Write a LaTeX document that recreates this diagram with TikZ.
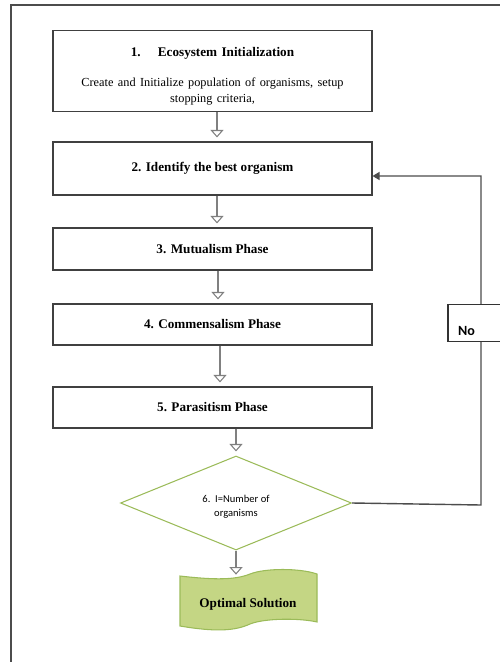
\documentclass[tikz,border=0pt]{standalone}
\usepackage{fontspec}
\setmainfont{Liberation Serif}
\newfontfamily\calfont{Carlito}
\usetikzlibrary{arrows.meta,shapes.geometric}
\definecolor{leafline}{RGB}{155,187,89}
\definecolor{leaffill}{RGB}{196,214,132}

\begin{document}
\begin{tikzpicture}[
        stage/.style = {draw = black!75, line width = 0.6pt, minimum width = 6.38cm, font = \fontsize{7.5}{9}\selectfont},
        flow/.style = {draw = gray, line width = 0.6pt, -{Triangle[open, width = 0.26cm, length = 0.15cm]}, shorten > = 0.08cm},
        back/.style = {draw = black!70, line width = 0.8pt, -{Triangle[width = 0.16cm, length = 0.14cm]}},
        nobox/.style = {draw = black!80, fill = white, line width = 0.6pt, minimum width = 1.4cm, minimum height = 0.64cm, text width = 1.0cm, align = left, font = \calfont\bfseries\fontsize{8}{9}\selectfont}
    ]
        \useasboundingbox (0,0) rectangle (10,-13.24);
        \draw[black!70, line width = 0.6pt] (0.22,-0.1) rectangle (10.6,-13.8);

        \node[stage, minimum height = 1.56cm, text width = 6.1cm, align = center] (init) at (4.25,-1.42) {\rule{0pt}{0.4cm}\textbf{1.\hspace{1.3em}Ecosystem Initialization}\\[0.34cm]{\fontsize{7}{7.6}\selectfont Create and Initialize population of organisms, setup\\stopping criteria,}};
        \node[stage, minimum height = 1.06cm] (best) at (4.25,-3.37) {\textbf{2. Identify the best organism}};
        \node[stage, minimum height = 0.84cm] (mutual) at (4.25,-4.98) {\textbf{3. Mutualism Phase}};
        \node[stage, minimum height = 0.82cm] (commensal) at (4.25,-6.49) {\textbf{4. Commensalism Phase}};
        \node[stage, minimum height = 0.82cm] (parasit) at (4.25,-8.15) {\textbf{5. Parasitism Phase}};

        \node[diamond, aspect = 2.4, draw = leafline, line width = 0.6pt, minimum width = 4.62cm, minimum height = 1.88cm, inner sep = 0pt, align = center, font = \calfont\fontsize{6}{7.8}\selectfont] (check) at (4.72,-10.06) {\rule{0pt}{8.5pt}6.\ \ I=Number of\\organisms};

        % wavy document shape
        \filldraw[fill = leaffill, draw = leafline, line width = 0.6pt] (3.6,-11.52) .. controls (4.3,-11.6) and (4.7,-11.6) .. (5.0,-11.48) .. controls (5.3,-11.36) and (6.0,-11.36) .. (6.34,-11.48) -- (6.34,-12.44) .. controls (6.0,-12.36) and (5.3,-12.36) .. (5.0,-12.48) .. controls (4.7,-12.62) and (4.3,-12.64) .. (3.6,-12.52) -- cycle;
        \node[minimum height = 1.12cm, font = \fontsize{7.5}{9}\selectfont\bfseries] (optimal) at (4.96,-12.08) {Optimal Solution};

        \draw[flow] ([xshift = 0.09cm]init.south) -- ([xshift = 0.09cm]best.north);
        \draw[flow] ([xshift = 0.09cm]best.south) -- ([xshift = 0.09cm]mutual.north);
        \draw[flow] ([xshift = 0.11cm]mutual.south) -- ([xshift = 0.11cm]commensal.north);
        \draw[flow] ([xshift = 0.15cm]commensal.south) -- ([xshift = 0.15cm]parasit.north);
        \draw[flow] (parasit.south -| check.north) -- (check.north);
        \draw[flow, shorten > = 0.02cm] (check.south) -- (check.south |- optimal.north);

        \coordinate (turn) at (9.62,-10.1);
        \draw[back] (check.east) -- (turn) |- ([yshift = -0.15cm]best.east);
        \node[nobox] (no) at (9.66,-6.46) {\rule{0pt}{0.5cm}No};
    \end{tikzpicture}
\end{document}
